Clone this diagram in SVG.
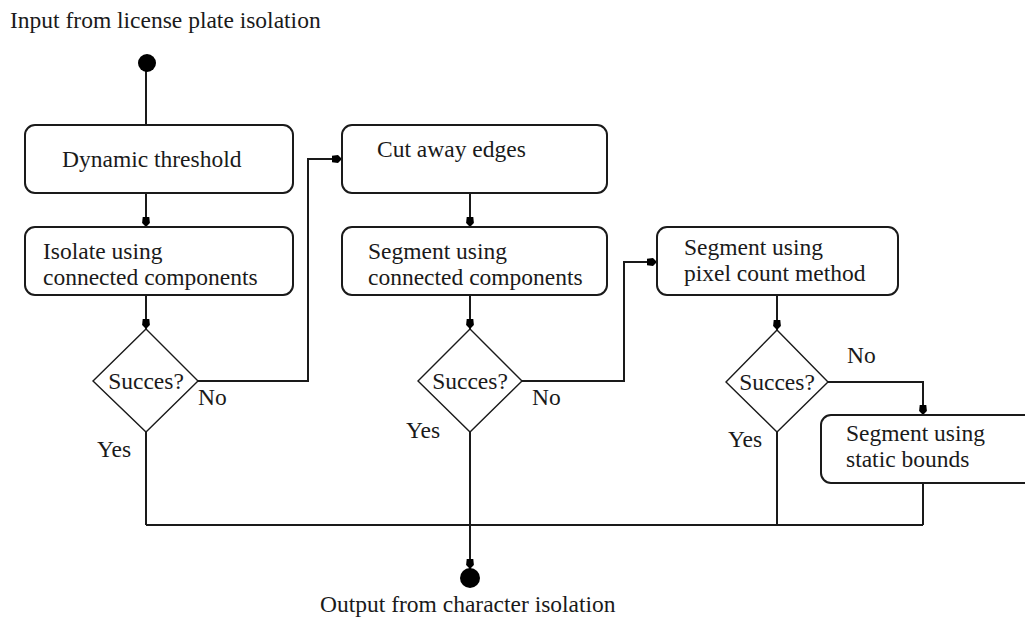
<svg xmlns="http://www.w3.org/2000/svg" width="1025" height="625" viewBox="0 0 1025 625">
  <style>
    text { font-family: "Liberation Serif", "Times New Roman", serif; font-size: 23.5px; fill: #1a1a1a; }
    .box { fill: #ffffff; stroke: #1a1a1a; stroke-width: 2; }
    .dia { fill: #ffffff; stroke: #1a1a1a; stroke-width: 1.4; }
    .wire { fill: none; stroke: #1a1a1a; stroke-width: 2; }
    .dot { fill: #000000; }
  </style>
  <defs>
    <marker id="head" markerUnits="userSpaceOnUse" markerWidth="12" markerHeight="9" refX="10" refY="4.5" orient="auto">
      <path d="M0,1.2 L6,0.6 L10,4.5 L6,8.4 L0,7.8 Z" fill="#000000"/>
    </marker>
  </defs>

  <rect width="1025" height="625" fill="#ffffff"/>

  <!-- connectors -->
  <g id="connectors">
    <line class="wire" x1="146" y1="70" x2="146" y2="125"/>
    <line class="wire" x1="146" y1="193" x2="146" y2="227" marker-end="url(#head)"/>
    <line class="wire" x1="146" y1="295" x2="146" y2="329" marker-end="url(#head)"/>
    <polyline class="wire" points="198,381 308,381 308,159 342,159" marker-end="url(#head)"/>
    <line class="wire" x1="470" y1="193" x2="470" y2="227" marker-end="url(#head)"/>
    <line class="wire" x1="470" y1="295" x2="470" y2="329" marker-end="url(#head)"/>
    <polyline class="wire" points="522,381 624,381 624,262 657,262" marker-end="url(#head)"/>
    <line class="wire" x1="777" y1="295" x2="777" y2="330" marker-end="url(#head)"/>
    <polyline class="wire" points="828,382 923,382 923,415" marker-end="url(#head)"/>
    <!-- merge of all successful paths -->
    <line class="wire" x1="146" y1="432" x2="146" y2="525"/>
    <line class="wire" x1="777" y1="432" x2="777" y2="525"/>
    <line class="wire" x1="923" y1="483" x2="923" y2="525"/>
    <line class="wire" x1="146" y1="525" x2="923" y2="525"/>
    <line class="wire" x1="470" y1="432" x2="470" y2="569" marker-end="url(#head)"/>
  </g>

  <!-- start / end -->
  <g id="start">
    <text x="10" y="28">Input from license plate isolation</text>
    <circle class="dot" cx="147" cy="63" r="9"/>
  </g>
  <g id="end">
    <circle class="dot" cx="470" cy="578" r="10"/>
    <text x="320" y="612">Output from character isolation</text>
  </g>

  <g id="dynamic-threshold">
    <rect class="box" x="25" y="125" width="268" height="68" rx="10"/>
    <text x="62" y="167">Dynamic threshold</text>
  </g>
  <g id="isolate-cc">
    <rect class="box" x="25" y="227" width="268" height="68" rx="10"/>
    <text x="43" y="259">Isolate using</text>
    <text x="43" y="285">connected components</text>
  </g>
  <g id="decision-1">
    <polygon class="dia" points="146,329 198,381 146,432 93,381"/>
    <text x="146" y="389" text-anchor="middle">Succes?</text>
    <text x="198" y="405">No</text>
    <text x="97" y="457">Yes</text>
  </g>

  <g id="cut-edges">
    <rect class="box" x="342" y="125" width="265" height="68" rx="10"/>
    <text x="377" y="157">Cut away edges</text>
  </g>
  <g id="segment-cc">
    <rect class="box" x="342" y="227" width="265" height="68" rx="10"/>
    <text x="368" y="259">Segment using</text>
    <text x="368" y="285">connected components</text>
  </g>
  <g id="decision-2">
    <polygon class="dia" points="470,329 522,381 470,432 418,381"/>
    <text x="470" y="389" text-anchor="middle">Succes?</text>
    <text x="532" y="405">No</text>
    <text x="406" y="438">Yes</text>
  </g>

  <g id="segment-pixel">
    <rect class="box" x="657" y="227" width="241" height="68" rx="10"/>
    <text x="684" y="255">Segment using</text>
    <text x="684" y="281">pixel count method</text>
  </g>
  <g id="decision-3">
    <polygon class="dia" points="777,330 828,382 777,432 726,382"/>
    <text x="777" y="390" text-anchor="middle">Succes?</text>
    <text x="847" y="363">No</text>
    <text x="728" y="447">Yes</text>
  </g>

  <g id="segment-static">
    <rect class="box" x="821" y="415" width="230" height="68" rx="10"/>
    <text x="846" y="441">Segment using</text>
    <text x="846" y="467">static bounds</text>
  </g>
</svg>
